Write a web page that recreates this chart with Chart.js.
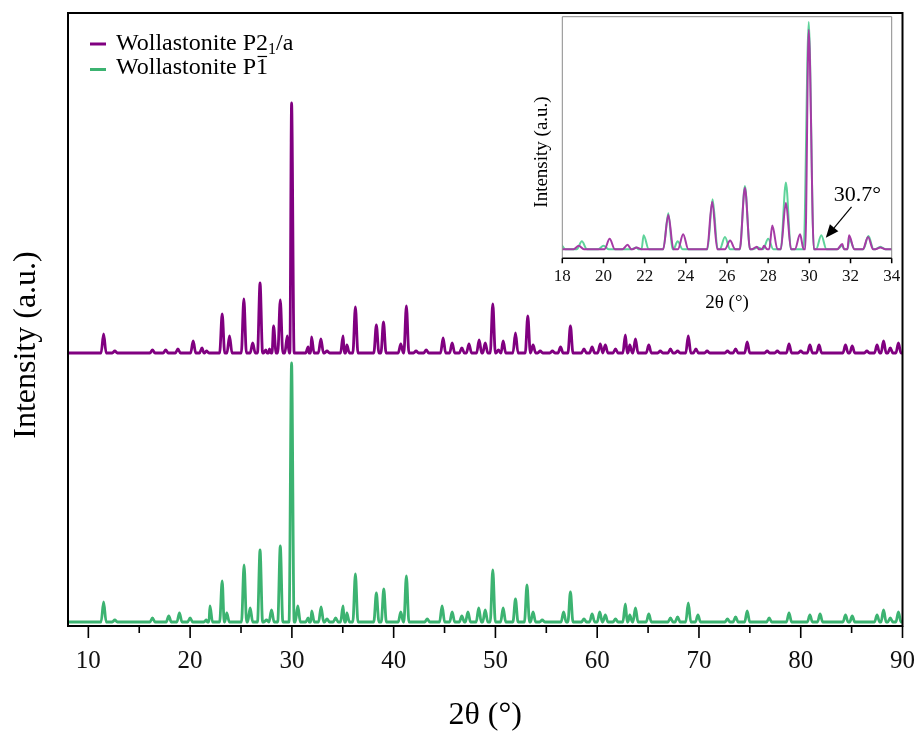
<!DOCTYPE html>
<html><head><meta charset="utf-8">
<script src="https://cdn.jsdelivr.net/npm/chart.js@4.4.0/dist/chart.umd.min.js"></script>
<style>
html,body{margin:0;padding:0;background:#fff;}
#wrap{position:relative;width:917px;height:731px;background:#fff;}
#main{position:absolute;left:0;top:0;}
#inset{position:absolute;left:520px;top:10px;}
</style></head><body>
<div id="wrap"><canvas id="main" width="917" height="731"></canvas><canvas id="inset" width="390" height="310"></canvas></div>
<script>
// ---- data (2θ in degrees, intensity in arbitrary units) ----
const seriesNames = ['Wollastonite P2', 'Wollastonite P1'];
const p21aPos = [11.5,12.6,16.3,17.6,18.8,20.3,21.17,21.6,23.15,23.87,25.28,26.15,26.87,27.45,27.8,28.2,28.86,29.55,29.97,31.6,31.93,32.85,33.45,35.03,35.4,36.24,38.3,39.0,40.7,41.25,42.2,43.2,44.86,45.75,46.7,47.4,48.4,49.0,49.74,50.3,50.76,51.97,53.18,53.7,54.4,55.6,56.4,57.37,58.7,59.5,60.3,60.8,61.8,62.77,63.2,63.76,65.07,66.2,67.2,67.9,68.95,69.7,70.8,72.8,73.6,74.74,76.7,77.7,78.85,80.0,80.9,81.8,84.4,85.06,86.5,87.5,88.14,88.8,89.6];
const p21aInt = [19,2,3,3,4,12,5,2,39,17,54,10,70,3,4,27,53,17,250,6,16,14,2,17,8,46,28,31,9,47,2,3,15,10,5,9,13,10,49,3,12,20,37,8,2,2,6,27,4,6,9,8,4,18,8,14,8,2,4,2,17,4,2,2,4,11,2,2,9,2,8,8,8,7,2,8,12,5,10];
const p1Pos = [11.5,12.6,16.3,17.9,18.95,20.0,21.6,21.95,23.15,23.6,25.3,25.9,26.87,27.5,28.0,28.86,29.97,30.58,31.6,31.95,32.87,33.45,34.3,35.03,35.4,36.24,38.3,39.03,40.7,41.25,43.3,44.76,45.75,46.7,47.3,48.36,49.0,49.74,50.76,51.97,53.1,53.7,54.6,56.7,57.37,58.7,59.5,60.25,60.8,61.8,62.77,63.2,63.76,65.07,67.2,67.9,68.95,69.9,72.8,73.6,74.74,76.9,78.85,80.9,81.9,84.4,85.06,87.5,88.14,88.8,89.6];
const p1Int = [20,2,4,6,9,4,2,16,41,9,57,14,72,2,12,76,259,16,4,11,15,3,4,16,9,48,29,33,10,46,3,16,10,6,10,14,12,52,14,23,37,10,2,10,30,3,8,10,7,3,18,7,14,8,4,5,19,7,3,5,11,4,9,7,8,7,6,7,12,4,10];
const p21aOffset = 273;   // vertical stacking offset of the upper pattern
const p1Offset = 4;
const xTicks = [10,20,30,40,50,60,70,80,90];
const xMinorTicks = [15,25,35,45,55,65,75,85];
const insetTicks = [18,20,22,24,26,28,30,32,34];
const arrowTarget = [30.8, 13];
const arrowLabel = '30.7°';

// ---- build line points from peak lists ----
function profile(pos, ints, offset, hw, xmin, xmax) {
  const pts = [{x:xmin,y:offset},{x:xmax,y:offset}];
  pos.forEach((p,i)=>{ pts.push({x:p-hw,y:offset},{x:p,y:offset+ints[i]},{x:p+hw,y:offset}); });
  pts.sort((a,b)=>a.x-b.x);
  const out=[];
  for (const q of pts) {
    const last=out[out.length-1];
    if (last && Math.abs(last.x-q.x)<1e-6) { if (q.y>last.y) last.y=q.y; }
    else out.push(q);
  }
  return out;
}
const FONT = 'Liberation Serif';
const PURPLE = '#800080', GREEN = '#3CB371';
const PURPLE_IN = '#A53BA5', GREEN_IN = '#5ED39A';

const mainPlugin = {
  id: 'mainDeco',
  afterDraw(chart) {
    const {ctx, chartArea: a, scales:{x}} = chart;
    ctx.save();
    ctx.strokeStyle = '#000';
    ctx.lineWidth = 2;
    ctx.strokeRect(a.left, a.top, a.right-a.left, a.bottom-a.top);
    ctx.lineWidth = 1.6;
    ctx.beginPath();
    xTicks.forEach(v=>{ const px=x.getPixelForValue(v); ctx.moveTo(px,a.bottom); ctx.lineTo(px,a.bottom+12); });
    xMinorTicks.forEach(v=>{ const px=x.getPixelForValue(v); ctx.moveTo(px,a.bottom); ctx.lineTo(px,a.bottom+7); });
    ctx.stroke();
    ctx.fillStyle = '#000';
    ctx.textAlign = 'center'; ctx.textBaseline = 'middle';
    ctx.font = `32px "${FONT}"`;
    ctx.fillText('2θ (°)', (a.left+a.right)/2, 716);
    ctx.save();
    ctx.translate(27, 345); ctx.rotate(-Math.PI/2);
    ctx.fillText('Intensity (a.u.)', 0, 0);
    ctx.restore();
    // legend
    ctx.textAlign = 'left'; ctx.textBaseline = 'alphabetic';
    ctx.lineWidth = 3;
    ctx.strokeStyle = PURPLE; ctx.beginPath(); ctx.moveTo(90,44); ctx.lineTo(106,44); ctx.stroke();
    ctx.strokeStyle = GREEN; ctx.beginPath(); ctx.moveTo(90,69.5); ctx.lineTo(106,69.5); ctx.stroke();
    ctx.font = `24px "${FONT}"`;
    let tx = 116;
    ctx.fillText(seriesNames[0], tx, 49.5);
    tx += ctx.measureText(seriesNames[0]).width;
    ctx.font = `16px "${FONT}"`;
    ctx.fillText('1', tx, 54);
    tx += ctx.measureText('1').width;
    ctx.font = `24px "${FONT}"`;
    ctx.fillText('/a', tx, 49.5);
    ctx.fillText(seriesNames[1], 116, 74);
    const w0 = ctx.measureText(seriesNames[1].slice(0,-1)).width;
    const w1 = ctx.measureText('1').width;
    ctx.strokeStyle = '#000'; ctx.lineWidth = 1.2;
    ctx.beginPath(); ctx.moveTo(116+w0+1.5, 56.5); ctx.lineTo(116+w0+w1-1, 56.5); ctx.stroke();
    ctx.restore();
  }
};

function noPad(s) { s.paddingLeft = 0; s.paddingRight = 0; }

new Chart(document.getElementById('main'), {
  type: 'line',
  data: { datasets: [
    { label: seriesNames[0], data: profile(p21aPos, p21aInt, p21aOffset, 0.25, 8, 90), borderColor: PURPLE, borderWidth: 2.8, pointRadius: 0, cubicInterpolationMode: 'monotone', fill: false },
    { label: seriesNames[1], data: profile(p1Pos, p1Int, p1Offset, 0.25, 8, 90), borderColor: GREEN, borderWidth: 2.8, pointRadius: 0, cubicInterpolationMode: 'monotone', fill: false }
  ]},
  options: {
    responsive: false, animation: false,
    layout: { padding: { left: 68, right: 14.5, top: 13, bottom: 0 } },
    plugins: { legend: { display: false }, tooltip: { enabled: false } },
    scales: {
      x: { type: 'linear', min: 8, max: 90,
        afterBuildTicks: s => { s.ticks = xTicks.map(v => ({ value: v })); },
        afterFit: s => { s.height = 105; noPad(s); },
        grid: { display: false, drawTicks: false }, border: { display: false },
        ticks: { font: { family: FONT, size: 25 }, color: '#111', padding: 20, maxRotation: 0, autoSkip: false } },
      y: { display: false, min: 0, max: 613 }
    }
  },
  plugins: [mainPlugin]
});

const insetPlugin = {
  id: 'insetDeco',
  afterDraw(chart) {
    const {ctx, chartArea: a, scales:{x, y}} = chart;
    ctx.save();
    ctx.strokeStyle = '#8a8a8a'; ctx.lineWidth = 1;
    ctx.beginPath();
    ctx.moveTo(a.left, a.bottom); ctx.lineTo(a.left, a.top); ctx.lineTo(a.right, a.top); ctx.lineTo(a.right, a.bottom);
    ctx.stroke();
    ctx.strokeStyle = '#000'; ctx.lineWidth = 1.5;
    ctx.beginPath(); ctx.moveTo(a.left, a.bottom); ctx.lineTo(a.right, a.bottom);
    insetTicks.forEach(v=>{ const px=x.getPixelForValue(v); ctx.moveTo(px,a.bottom); ctx.lineTo(px,a.bottom+5); });
    ctx.stroke();
    ctx.fillStyle = '#000'; ctx.textAlign = 'center'; ctx.textBaseline = 'middle';
    ctx.font = `19px "${FONT}"`;
    ctx.fillText('2θ (°)', (a.left+a.right)/2, 293.3);
    ctx.save(); ctx.translate(21.7, 142); ctx.rotate(-Math.PI/2);
    ctx.fillText('Intensity (a.u.)', 0, 0); ctx.restore();
    // arrow annotation
    const tx = x.getPixelForValue(arrowTarget[0]), ty = y.getPixelForValue(arrowTarget[1]);
    const sx = tx + 25.7, sy = ty - 31;
    const ang = Math.atan2(ty - sy, tx - sx);
    const hl = 13, hw = 5.5;
    const bx = tx - hl*Math.cos(ang), by = ty - hl*Math.sin(ang);
    ctx.strokeStyle = '#000'; ctx.lineWidth = 1.2;
    ctx.beginPath(); ctx.moveTo(sx, sy); ctx.lineTo(bx, by); ctx.stroke();
    ctx.beginPath();
    ctx.moveTo(tx, ty);
    ctx.lineTo(bx + hw*Math.sin(ang), by - hw*Math.cos(ang));
    ctx.lineTo(bx - hw*Math.sin(ang), by + hw*Math.cos(ang));
    ctx.closePath(); ctx.fill();
    ctx.font = `22px "${FONT}"`;
    ctx.fillText(arrowLabel, tx + 31.5, ty - 43);
    ctx.restore();
  }
};

new Chart(document.getElementById('inset'), {
  type: 'line',
  data: { datasets: [
    { label: seriesNames[0], data: profile(p21aPos, p21aInt, 0, 0.25, 8, 90), borderColor: PURPLE_IN, borderWidth: 2, pointRadius: 0, cubicInterpolationMode: 'monotone', fill: false },
    { label: seriesNames[1], data: profile(p1Pos, p1Int, 0, 0.25, 8, 90), borderColor: GREEN_IN, borderWidth: 2, pointRadius: 0, cubicInterpolationMode: 'monotone', fill: false }
  ]},
  options: {
    responsive: false, animation: false,
    layout: { padding: { left: 42.3, right: 18.3, top: 6.7, bottom: 0 } },
    plugins: { legend: { display: false }, tooltip: { enabled: false } },
    scales: {
      x: { type: 'linear', min: 18, max: 34,
        afterBuildTicks: s => { s.ticks = insetTicks.map(v => ({ value: v })); },
        afterFit: s => { s.height = 61.7; noPad(s); },
        grid: { display: false, drawTicks: false }, border: { display: false },
        ticks: { font: { family: FONT, size: 17 }, color: '#111', padding: 8, maxRotation: 0, autoSkip: false } },
      y: { display: false, min: -10.3, max: 265 }
    }
  },
  plugins: [insetPlugin]
});
</script>
</body></html>
